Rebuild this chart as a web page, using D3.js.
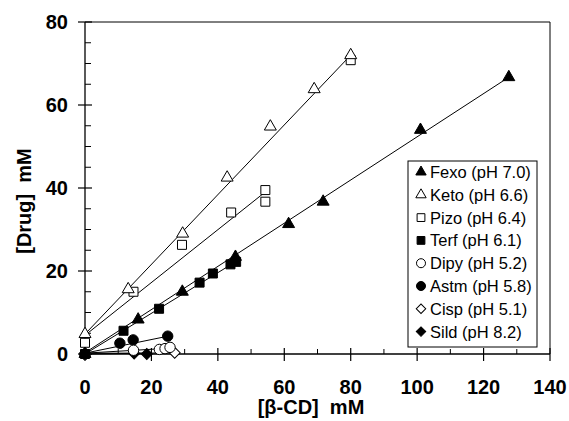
<!DOCTYPE html>
<html>
<head>
<meta charset="utf-8">
<script src="https://cdn.jsdelivr.net/npm/d3@7"></script>
<style>
  body { margin: 0; background: #fff; }
  text { font-family: "Liberation Sans", Arial, sans-serif; }
  .tick-label { font-weight: bold; font-size: 20px; }
  .axis-title { font-weight: bold; font-size: 20px; white-space: pre; }
  .legend-label { font-size: 16.5px; }
</style>
</head>
<body>
<svg id="chart"></svg>
<script>
// Series names (legend order)
const seriesNames = ['Fexo (pH 7.0)', 'Keto (pH 6.6)', 'Pizo (pH 6.4)', 'Terf (pH 6.1)',
  'Dipy (pH 5.2)', 'Astm (pH 5.8)', 'Cisp (pH 5.1)', 'Sild (pH 8.2)'];

// [β-CD] mM / [Drug] mM
const fexoX = [0, 16, 29.3, 45.3, 61.3, 71.7, 101, 127.6];
const fexoY = [0, 8.3, 15, 23.4, 31.3, 36.7, 54, 66.7];
const ketoX = [0, 13, 29.4, 42.8, 55.8, 69, 80];
const ketoY = [4.8, 15.6, 29, 42.5, 54.8, 63.8, 72];
const pizoX = [0, 14.6, 29.2, 44, 54.3, 54.3, 80];
const pizoY = [2.7, 15, 26.3, 34.1, 36.7, 39.5, 70.8];
const terfX = [0, 11.6, 22.3, 34.5, 38.5, 43.8, 45.5];
const terfY = [0, 5.6, 10.9, 17.2, 19.4, 21.6, 22.2];
const dipyX = [0, 14.6, 22.4, 24.1, 25.6];
const dipyY = [0, 0.9, 1.1, 1.3, 1.6];
const astmX = [0, 10.5, 14.5, 24.9];
const astmY = [0, 2.6, 3.4, 4.3];
const cispX = [0, 27];
const cispY = [0, 0.3];
const sildX = [0, 14.8, 18.6];
const sildY = [0, 0.1, 0];

// Fitted lines: [start, end] as [x, y]
const fexoFit = [[0, 0.3], [127.6, 66.7]];
const ketoFit = [[0, 4.8], [80, 72]];
const pizoFit = [[0, 4.5], [55, 39.5]];
const terfFit = [[0, 0], [45.5, 22.3]];
const dipyFit = [[0, 0.2], [25.6, 1.4]];
const astmFit = [[0, 0.2], [25, 4.3]];
const cispFit = [[0, 0], [27, 0.3]];
const sildFit = [[0, 0.2], [18.6, 0.2]];

// Axis ticks
const xTicks = [0, 20, 40, 60, 80, 100, 120, 140];
const yTicks = [0, 20, 40, 60, 80];

const config = {
  width: 569,
  height: 421,
  margin: { top: 22, right: 19, bottom: 67, left: 85 }
};

const svg = d3.select('#chart')
  .attr('width', config.width)
  .attr('height', config.height);

const innerW = config.width - config.margin.left - config.margin.right;
const innerH = config.height - config.margin.top - config.margin.bottom;

const xScale = d3.scaleLinear().domain([0, 140]).range([0, innerW]);
const yScale = d3.scaleLinear().domain([0, 80]).range([innerH, 0]);

const g = svg.append('g')
  .attr('transform', `translate(${config.margin.left},${config.margin.top})`);

// Frame (top and right edges)
g.append('path')
  .attr('d', `M0,0H${innerW}V${innerH}`)
  .attr('fill', 'none')
  .attr('stroke', '#000')
  .attr('stroke-width', 1);

// x axis: major ticks cross the line, minor ticks point up
const xAxisG = g.append('g').attr('transform', `translate(0,${innerH})`);
xAxisG.append('line')
  .attr('x1', 0).attr('x2', innerW)
  .attr('stroke', '#000').attr('stroke-width', 1.3);
xAxisG.selectAll('.xmajor')
  .data(xTicks)
  .join('line')
  .attr('class', 'xmajor')
  .attr('x1', d => xScale(d)).attr('x2', d => xScale(d))
  .attr('y1', -6).attr('y2', 7)
  .attr('stroke', '#000').attr('stroke-width', 1.2);
xAxisG.selectAll('.xminor')
  .data(d3.range(10, 140, 20))
  .join('line')
  .attr('class', 'xminor')
  .attr('x1', d => xScale(d)).attr('x2', d => xScale(d))
  .attr('y1', -5).attr('y2', 0)
  .attr('stroke', '#000').attr('stroke-width', 1);
xAxisG.selectAll('.tick-label')
  .data(xTicks)
  .join('text')
  .attr('class', 'tick-label')
  .attr('x', d => xScale(d))
  .attr('y', 40)
  .attr('text-anchor', 'middle')
  .text(d => d);

// y axis
const yAxisG = g.append('g');
yAxisG.append('line')
  .attr('y1', 0).attr('y2', innerH)
  .attr('stroke', '#000').attr('stroke-width', 1.3);
yAxisG.selectAll('.ymajor')
  .data(yTicks)
  .join('line')
  .attr('class', 'ymajor')
  .attr('y1', d => yScale(d)).attr('y2', d => yScale(d))
  .attr('x1', -7).attr('x2', 7)
  .attr('stroke', '#000').attr('stroke-width', 1.2);
yAxisG.selectAll('.yminor')
  .data(d3.range(5, 80, 5).filter(d => d % 20 !== 0))
  .join('line')
  .attr('class', 'yminor')
  .attr('y1', d => yScale(d)).attr('y2', d => yScale(d))
  .attr('x1', 0).attr('x2', 6)
  .attr('stroke', '#000').attr('stroke-width', 1);
yAxisG.selectAll('.tick-label')
  .data(yTicks)
  .join('text')
  .attr('class', 'tick-label')
  .attr('x', -17)
  .attr('y', d => yScale(d))
  .attr('dy', '0.36em')
  .attr('text-anchor', 'end')
  .text(d => d);

// Axis titles
svg.append('text')
  .attr('class', 'axis-title')
  .attr('x', 311)
  .attr('y', 414)
  .attr('text-anchor', 'middle')
  .text('[β-CD]  mM');

svg.append('text')
  .attr('class', 'axis-title')
  .attr('transform', 'translate(31,201) rotate(-90)')
  .attr('text-anchor', 'middle')
  .text('[Drug]  mM');

// Marker styles per series
const markers = [
  { type: d3.symbolTriangle, size: 62, fill: '#000', rot: 0 },
  { type: d3.symbolTriangle, size: 62, fill: '#fff', rot: 0 },
  { type: d3.symbolSquare, size: 81, fill: '#fff', rot: 0 },
  { type: d3.symbolSquare, size: 81, fill: '#000', rot: 0 },
  { type: d3.symbolCircle, size: 85, fill: '#fff', rot: 0 },
  { type: d3.symbolCircle, size: 85, fill: '#000', rot: 0 },
  { type: d3.symbolSquare, size: 60, fill: '#fff', rot: 45 },
  { type: d3.symbolSquare, size: 60, fill: '#000', rot: 45 }
];

const series = [
  [fexoX, fexoY, fexoFit], [ketoX, ketoY, ketoFit], [pizoX, pizoY, pizoFit],
  [terfX, terfY, terfFit], [dipyX, dipyY, dipyFit], [astmX, astmY, astmFit],
  [cispX, cispY, cispFit], [sildX, sildY, sildFit]
].map(([xs, ys, fit], i) => ({
  name: seriesNames[i],
  marker: markers[i],
  points: xs.map((x, j) => ({ x: x, y: ys[j] })),
  fit: fit
}));

// Fit lines
const line = d3.line().x(d => xScale(d[0])).y(d => yScale(d[1]));
g.selectAll('.fit')
  .data(series)
  .join('path')
  .attr('class', 'fit')
  .attr('d', d => line(d.fit))
  .attr('fill', 'none')
  .attr('stroke', '#000')
  .attr('stroke-width', 1);

// Points, drawn last series first so the legend's first entries sit on top
const layers = g.selectAll('.series')
  .data(series.slice().reverse())
  .join('g')
  .attr('class', 'series');

layers.selectAll('path')
  .data(d => d.points.map(p => ({ p: p, m: d.marker })))
  .join('path')
  .attr('transform', d => `translate(${xScale(d.p.x)},${yScale(d.p.y)}) rotate(${d.m.rot})`)
  .attr('d', d => d3.symbol().type(d.m.type).size(d.m.size)())
  .attr('fill', d => d.m.fill)
  .attr('stroke', '#000')
  .attr('stroke-width', 1);

// Legend
const legend = svg.append('g').attr('transform', 'translate(408,161)');
legend.append('rect')
  .attr('width', 129).attr('height', 186)
  .attr('fill', '#fff')
  .attr('stroke', '#000')
  .attr('stroke-width', 1);

const items = legend.selectAll('.item')
  .data(series)
  .join('g')
  .attr('class', 'item')
  .attr('transform', (d, i) => `translate(0,${11 + i * 22.8})`);

items.append('path')
  .attr('transform', d => `translate(13,0) rotate(${d.marker.rot})`)
  .attr('d', d => d3.symbol().type(d.marker.type).size(d.marker.size * 0.75)())
  .attr('fill', d => d.marker.fill)
  .attr('stroke', '#000')
  .attr('stroke-width', 1);

items.append('text')
  .attr('class', 'legend-label')
  .attr('x', 22)
  .attr('dy', '0.36em')
  .text(d => d.name);
</script>
</body>
</html>
